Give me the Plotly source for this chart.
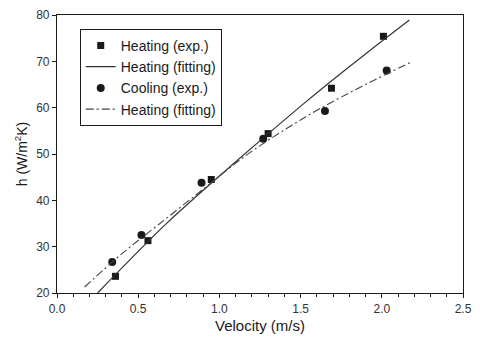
import plotly.graph_objects as go

# Measured heat transfer coefficient vs. air velocity
heat_v = [0.36, 0.56, 0.95, 1.30, 1.69, 2.01]
heat_h = [23.6, 31.3, 44.5, 54.4, 64.2, 75.4]

cool_v = [0.34, 0.52, 0.89, 1.27, 1.65, 2.03]
cool_h = [26.7, 32.5, 43.8, 53.3, 59.3, 68.0]

# Fitted curves, sampled along each fit
heat_fit_v = [0.25, 0.45, 0.68, 1.07, 1.51, 1.68, 1.90, 2.17]
heat_fit_h = [20.0, 27.2, 35.2, 47.4, 60.6, 65.5, 71.6, 78.9]

cool_fit_v = [0.17, 0.40, 0.63, 0.90, 1.16, 1.40, 1.63, 1.90, 2.19]
cool_fit_h = [21.3, 28.5, 34.9, 42.4, 49.6, 55.2, 60.0, 65.0, 70.0]

x_ticks = [0.0, 0.5, 1.0, 1.5, 2.0, 2.5]
y_ticks = [20, 30, 40, 50, 60, 70, 80]

ink = "#1a1a1a"
font = "Liberation Sans, Arial, sans-serif"

fig = go.Figure()
fig.add_trace(go.Scatter(
    x=heat_v, y=heat_h, mode="markers", name="Heating (exp.)",
    marker=dict(symbol="square", size=7, color=ink),
))
fig.add_trace(go.Scatter(
    x=heat_fit_v, y=heat_fit_h, mode="lines", name="Heating (fitting)",
    line=dict(color="#333333", width=1.2, shape="spline"),
))
fig.add_trace(go.Scatter(
    x=cool_v, y=cool_h, mode="markers", name="Cooling (exp.)",
    marker=dict(symbol="circle", size=8, color=ink),
))
fig.add_trace(go.Scatter(
    x=cool_fit_v, y=cool_fit_h, mode="lines", name="Heating (fitting)",
    line=dict(color="#444444", width=1.1, dash="8px,3px,2px,3px", shape="spline"),
))

axis_common = dict(
    showline=True, linecolor=ink, linewidth=1.2, mirror=True,
    ticks="outside", ticklen=4, tickcolor=ink, tickwidth=1,
    showgrid=False, zeroline=False,
    tickfont=dict(family=font, size=12, color="#333333"),
)

fig.update_xaxes(
    range=[0, 2.5], tickvals=x_ticks, ticktext=[f"{v:.1f}" for v in x_ticks],
    minor=dict(dtick=0.1, ticks="outside", ticklen=2.5, tickcolor=ink),
    title=dict(text="Velocity (m/s)", font=dict(family=font, size=15, color=ink), standoff=5),
    **axis_common,
)
fig.update_yaxes(
    range=[20, 80], tickvals=y_ticks,
    title=dict(text="h (W/m<sup>2</sup>K)", font=dict(family=font, size=14, color=ink), standoff=5),
    **axis_common,
)

fig.update_layout(
    width=480, height=341,
    margin=dict(l=57, r=17, t=8, b=48),
    paper_bgcolor="white", plot_bgcolor="white",
    showlegend=True,
    legend=dict(
        x=0.056, y=0.95, xanchor="left", yanchor="top",
        bordercolor=ink, borderwidth=1, bgcolor="white",
        font=dict(family=font, size=14, color=ink),
        itemwidth=30, tracegroupgap=0,
    ),
)

fig.write_html("out.html")
